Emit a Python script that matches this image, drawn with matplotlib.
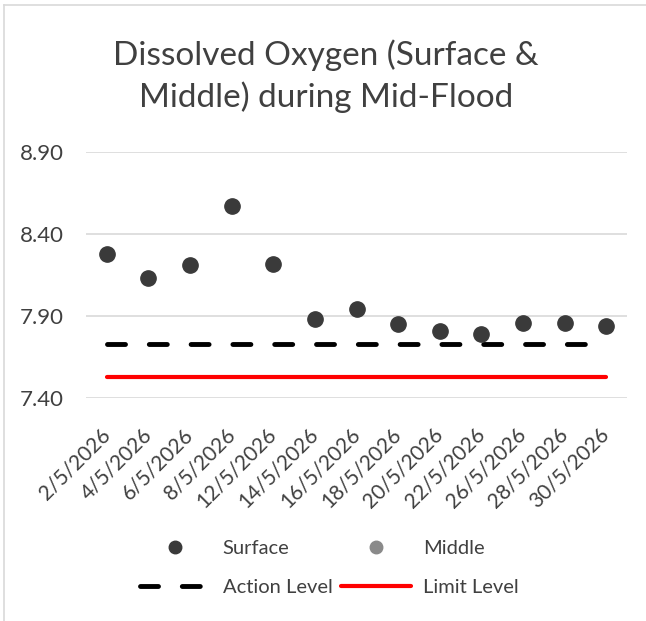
import numpy as np
import matplotlib.pyplot as plt
from matplotlib.lines import Line2D

plt.rcParams['font.family'] = ['Lato', 'DejaVu Sans']

# data
dates = ['2/5/2026', '4/5/2026', '6/5/2026', '8/5/2026', '12/5/2026', '14/5/2026',
         '16/5/2026', '18/5/2026', '20/5/2026', '22/5/2026', '26/5/2026', '28/5/2026',
         '30/5/2026']
surface = [8.28, 8.13, 8.21, 8.57, 8.22, 7.88, 7.94, 7.85, 7.81, 7.79, 7.86, 7.86, 7.84]
middle = [np.nan] * len(dates)
action_level = [7.73] * len(dates)
limit_level = [7.53] * len(dates)

fig = plt.figure(figsize=(6.46, 6.21), dpi=100)
ax = fig.add_axes([86 / 646, 1 - 398 / 621, 541 / 646, 246 / 621])

x = np.arange(len(dates))
ax.plot(x, limit_level, color='#ff0000', lw=3, solid_capstyle='round', zorder=2)
ax.plot(x, action_level, color='black', lw=3.5, dashes=(3.7, 4.9),
        dash_capstyle='round', zorder=2)
ax.plot(x, surface, 'o', color='#3a3a3a', ms=11, zorder=3)
ax.plot(x, middle, 'o', color='#8a8a8a', ms=11, zorder=3)

ax.set_xlim(-0.5, len(dates) - 0.5)
ax.set_ylim(7.40, 8.90)
ax.set_yticks([7.40, 7.90, 8.40, 8.90])
ax.set_yticklabels(['%.2f' % v for v in [7.40, 7.90, 8.40, 8.90]])
ax.set_xticks(x)
ax.set_xticklabels(dates, rotation=45, ha='right', va='center', rotation_mode='anchor')
ax.tick_params(axis='both', length=0, colors='#404040')
ax.tick_params(axis='y', pad=16, labelsize=16)
ax.tick_params(axis='x', pad=24, labelsize=15)
ax.grid(axis='y', color='#d9d9d9', lw=1.2)
ax.set_axisbelow(True)
for s in ax.spines.values():
    s.set_visible(False)

fig.text(0.505, 0.937, 'Dissolved Oxygen (Surface &\nMiddle) during Mid-Flood',
         ha='center', va='top', fontsize=24, color='#404040', linespacing=1.42)

handles = [
    Line2D([], [], ls='none', marker='o', color='#3a3a3a', ms=9),
    Line2D([], [], color='black', lw=3.5, dashes=(3.7, 4.9), dash_capstyle='round'),
    Line2D([], [], ls='none', marker='o', color='#8a8a8a', ms=9),
    Line2D([], [], color='#ff0000', lw=3, solid_capstyle='round'),
]
labels = ['Surface', 'Action Level', 'Middle', 'Limit Level']
leg = fig.legend(handles, labels, ncol=2, loc='center', bbox_to_anchor=(0.51, 0.085),
                 frameon=False, fontsize=14.5, handlelength=3.5, handletextpad=0.6,
                 columnspacing=0.4, labelspacing=1.1, labelcolor='#404040')

# chart border (left and top visible in the reference)
fig.add_artist(Line2D([3.5 / 646, 3.5 / 646], [0, 1 - 5 / 621], color='#d9d9d9', lw=1.2))
fig.add_artist(Line2D([3.5 / 646, 1], [1 - 5 / 621, 1 - 5 / 621], color='#d9d9d9', lw=1.2))

fig.savefig('out.png', dpi=100)
